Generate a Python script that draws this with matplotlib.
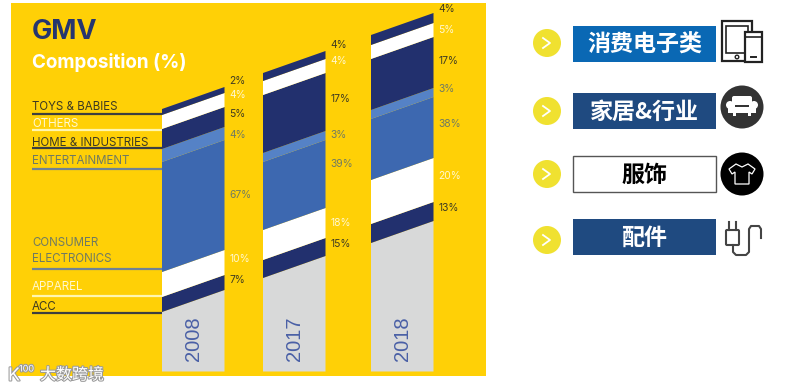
import matplotlib
matplotlib.use('Agg')
import matplotlib.pyplot as plt
from matplotlib.patches import Rectangle, Circle, Polygon, FancyBboxPatch
import matplotlib.patheffects as pe
import numpy as np

# Data
years = ['2008', '2017', '2018']
layers = ['ACC', 'Apparel', 'Consumer electronics', 'Entertainment', 'Home & industries', 'Others', 'Toys & babies']
pct_2008 = [7, 10, 67, 4, 5, 4, 2]
pct_2017 = [15, 18, 39, 3, 17, 4, 4]
pct_2018 = [13, 20, 38, 3, 17, 5, 4]
# drawn band heights, the picture is not to scale with the labels
base_heights = [81.5, 115.5, 150.5]
drawn_2008 = [15, 25, 110, 13, 20, 14, 6]
drawn_2017 = [18, 30, 68, 9, 58, 14, 8]
drawn_2018 = [19, 44, 61, 9, 51, 14, 10]

categories = ['消费电子类', '家居&行业', '服饰', '配件']

NAVY = '#22306e'
BLUE = '#3d68b0'
LIGHT = '#5582c6'
GREY = '#d8d9d9'
YELLOW = '#ffd006'
DARK = '#3d3a22'
MUTED = '#6f7a62'
layer_colors = [NAVY, 'white', BLUE, LIGHT, NAVY, 'white', NAVY]
label_colors = [DARK, '#fff8d0', MUTED, MUTED, DARK, '#fff8d0', DARK]

plt.rcParams['font.family'] = ['Inter', 'DejaVu Sans']
cjk = ['Noto Sans CJK SC', 'DejaVu Sans']

fig = plt.figure(figsize=(7.88, 3.90), dpi=100)
ax = fig.add_axes([0, 0, 1, 1])
ax.set_xlim(0, 788)
ax.set_ylim(390, 0)
ax.axis('off')

ax.add_patch(Rectangle((11, 3), 475, 373, color=YELLOW, lw=0))

# Skewed stacked bars
bar_left = [162, 263, 371]
bar_w = 62.5
floor = 371.5
slant = 22
# where the % labels sit, bottom layer first
label_y = [
    [280, 259, 195, 135, 114, 95, 81],
    [244, 223, 164, 135, 99, 61, 45],
    [208, 176, 124, 89, 61, 30, 9],
]
for i in range(3):
    x0 = bar_left[i]
    x1 = x0 + bar_w
    drawn = [drawn_2008, drawn_2017, drawn_2018][i]
    pct = [pct_2008, pct_2017, pct_2018][i]
    top = floor - base_heights[i]
    ax.fill([x0, x1, x1, x0], [floor, floor, top, top + slant], color=GREY, lw=0)
    for j in range(len(layers)):
        new = top - drawn[j]
        ax.fill([x0, x1, x1, x0], [top + slant, top, new, new + slant],
                color=layer_colors[j], lw=0)
        ax.text(x1 + 5, label_y[i][j], str(pct[j]) + '%',
                color=label_colors[j], fontsize=7.4, ha='left', va='center')
        top = new
    ax.text(x0 + bar_w / 2, 338.5, years[i], rotation=90, ha='center', va='center',
            color='#4a60a6', fontsize=14.5, family='Liberation Sans')

# Titles
ax.text(32, 32, 'GMV', color='#26356f', fontsize=19.5, fontweight='bold', ha='left', va='center')
ax.text(32, 62, 'Composition (%)', color='white', fontsize=13.6, fontweight='bold', ha='left', va='center')

# Left hand labels with leader lines
names = ['TOYS & BABIES', 'OTHERS', 'HOME & INDUSTRIES', 'ENTERTAINMENT',
         'CONSUMER\nELECTRONICS', 'APPAREL', 'ACC']
name_y = [107.5, 124, 142.5, 161, 251, 287.5, 307]
line_y = [113.5, 129.5, 148, 168.5, 269, 296, 313]
name_col = [DARK, '#fff8d0', DARK, MUTED, MUTED, '#fff8d0', DARK]
line_col = ['#3c3f40', '#fff6b0', '#3c3f40', '#6f8296', '#6f8296', '#fff6b0', '#3c3f40']
for k in range(7):
    ax.text(32, name_y[k], names[k], color=name_col[k], fontsize=8.3, ha='left', va='center',
            linespacing=1.45)
    ax.plot([32, 162], [line_y[k], line_y[k]], color=line_col[k], lw=1.6, solid_capstyle='butt')

# Right hand legend
row_y = [44, 111, 174, 237]
box_col = ['#0a68b4', '#1f4a80', 'white', '#1f4a80']
text_col = ['white', 'white', 'black', 'white']
circle_y = [43, 111, 174, 240]
for r in range(4):
    ax.add_patch(Circle((547, circle_y[r]), 14, color='#f0e130', lw=0))
    ax.plot([543, 550, 543], [circle_y[r] - 5, circle_y[r], circle_y[r] + 5], color='white', lw=1.3)
    if r == 2:
        ax.add_patch(Rectangle((573, row_y[r] - 18), 143, 36, facecolor='white', edgecolor='#555555', lw=1))
    else:
        ax.add_patch(Rectangle((573, row_y[r] - 18), 143, 36, color=box_col[r], lw=0))
    ax.text(644.5, row_y[r] + 1.5, categories[r], color=text_col[r], fontsize=16.6, fontweight='bold',
            family=cjk, ha='center', va='center')

# Devices icon
ax.add_patch(Rectangle((722, 21), 30, 40, facecolor='white', edgecolor='#222222', lw=1.6))
ax.add_patch(Rectangle((726, 26), 22, 27, facecolor='white', edgecolor='#222222', lw=1.2))
ax.add_patch(Circle((737, 57), 1.8, facecolor='white', edgecolor='#222222', lw=1))
ax.add_patch(Rectangle((745, 32), 17, 30, facecolor='white', edgecolor='#222222', lw=1.6))
ax.plot([745, 762], [37, 37], color='#222222', lw=1.2)
ax.plot([751, 756], [57, 57], color='#222222', lw=1.4)

# Sofa icon
ax.add_patch(Circle((742, 107), 21.5, color='#333333', lw=0))
ax.add_patch(FancyBboxPatch((734, 98), 16, 8, boxstyle='round,pad=2', color='white', lw=0))
ax.add_patch(Circle((730, 105), 4, color='white', lw=0))
ax.add_patch(Circle((754, 105), 4, color='white', lw=0))
ax.add_patch(Rectangle((728, 105), 28, 8, color='white', lw=0))
ax.add_patch(Rectangle((735, 105), 14, 2, color='#333333', lw=0))
ax.add_patch(Rectangle((733, 113), 3, 3, color='white', lw=0))
ax.add_patch(Rectangle((748, 113), 3, 3, color='white', lw=0))

# T-shirt icon
ax.add_patch(Circle((742, 174), 21.5, color='black', lw=0))
shirt_x = [736, 742, 748, 755, 752, 749, 749, 735, 735, 732, 729]
shirt_y = [164, 167, 164, 169, 174, 172, 184, 184, 172, 174, 169]
ax.add_patch(Polygon(np.column_stack([shirt_x, shirt_y]), closed=True, fill=False, edgecolor='white', lw=0.9))

# Plug icon
ink = '#444444'
ax.add_patch(FancyBboxPatch((727, 231), 11, 13, boxstyle='round,pad=1', facecolor='white', edgecolor=ink, lw=1.5))
ax.plot([729, 729], [222, 230], color=ink, lw=1.5)
ax.plot([736, 736], [222, 230], color=ink, lw=1.5)
ax.plot([733, 733, 736, 746, 749, 749, 751, 759, 761, 761],
        [245, 252, 255, 255, 252, 229, 226, 226, 229, 238], color=ink, lw=1.5)

# Watermark
halo = [pe.withStroke(linewidth=1.5, foreground='#9a9a9a')]
ax.text(40, 375, '大数跨境', color='white', fontsize=11.5, family=cjk, ha='left', va='center', path_effects=halo)
ax.text(8, 376, 'K', color='white', fontsize=13, ha='left', va='center', path_effects=halo)
ax.text(19, 369, '100', color='white', fontsize=6.5, ha='left', va='center', path_effects=halo)

fig.savefig('out.png', dpi=100)
